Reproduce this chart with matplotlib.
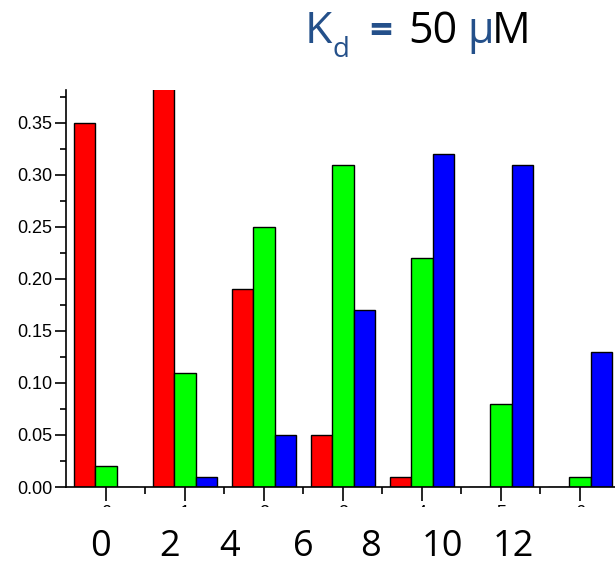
import matplotlib
matplotlib.use("Agg")
import matplotlib.pyplot as plt
import numpy as np
from matplotlib.patches import Rectangle

# data
groups = [0, 1, 2, 3, 4, 5, 6]
red_vals = [0.35, 0.40, 0.19, 0.05, 0.01, 0.0, 0.0]
green_vals = [0.02, 0.11, 0.25, 0.31, 0.22, 0.08, 0.01]
blue_vals = [0.0, 0.01, 0.05, 0.17, 0.32, 0.31, 0.13]
big_labels = ["0", "2", "4", "6", "8", "10", "12"]
big_label_x = [100, 170, 230, 303, 370, 442, 513]  # pixel positions

W, H = 615, 564
fig = plt.figure(figsize=(W / 100, H / 100), dpi=100)
ax = fig.add_axes([66 / W, 1 - 487 / H, 1 - 66 / W, (487 - 90) / H])

x = np.array(groups, dtype=float)
bw = 0.27
for off, vals, col in [(-bw, red_vals, "#ff0000"),
                       (0.0, green_vals, "#00ff00"),
                       (bw, blue_vals, "#0000ff")]:
    ax.bar(x + off, vals, width=bw, color=col, edgecolor="black",
           linewidth=1.0, zorder=2)

ax.set_xlim(-0.506, (615 - 106) / 79.0)
ax.set_ylim(0, 0.3817)

for s in ["top", "right"]:
    ax.spines[s].set_visible(False)
for s in ["left", "bottom"]:
    ax.spines[s].set_linewidth(1.2)

yt = np.arange(0, 0.36, 0.05)
ax.set_yticks(yt)
ax.set_yticklabels([f"{v:.2f}" for v in yt], fontsize=13, family="Liberation Sans")
ax.set_yticks(np.arange(0.025, 0.38, 0.05), minor=True)
ax.tick_params(axis="y", which="major", direction="out", length=8, width=1.2, pad=2)
ax.tick_params(axis="y", which="minor", direction="out", length=4, width=1.2)

ax.set_xticks(groups)
ax.set_xticklabels([str(g) for g in groups], fontsize=13, family="Liberation Sans")
ax.set_xticks(np.arange(0.5, 6.5, 1.0), minor=True)
ax.tick_params(axis="x", which="major", direction="out", length=10, width=1.2, pad=3)
ax.tick_params(axis="x", which="minor", direction="out", length=5, width=1.2)

# white mask that hides most of the original small x tick labels
fig.patches.append(Rectangle((0, 0), 1, 1 - 507 / H, transform=fig.transFigure,
                             facecolor="white", edgecolor="none", zorder=5))

for lab, px in zip(big_labels, big_label_x):
    fig.text(px / W, 1 - 556 / H, lab, ha="center", va="baseline",
             fontsize=26, family="Open Sans", color="black", zorder=6)

blue = "#24508a"
fig.text(305 / W, 1 - 43 / H, "K", fontsize=32, family="Open Sans", color=blue,
         ha="left", va="baseline")
fig.text(333 / W, 1 - 57 / H, "d", fontsize=20, family="Open Sans", color=blue,
         ha="left", va="baseline")
fig.text(381 / W, 1 - 43 / H, "=", fontsize=29, family="Open Sans", color=blue,
         ha="center", va="baseline", weight="bold")
fig.text(408 / W, 1 - 43 / H, "50", fontsize=31, family="Open Sans", color="black",
         ha="left", va="baseline")
fig.text(467 / W, 1 - 43 / H, "\u03bc", fontsize=31, family="Open Sans", color=blue,
         ha="left", va="baseline")
fig.text(492 / W, 1 - 43 / H, "M", fontsize=31, family="Open Sans", color="black",
         ha="left", va="baseline")

fig.savefig("out.png", dpi=100)
